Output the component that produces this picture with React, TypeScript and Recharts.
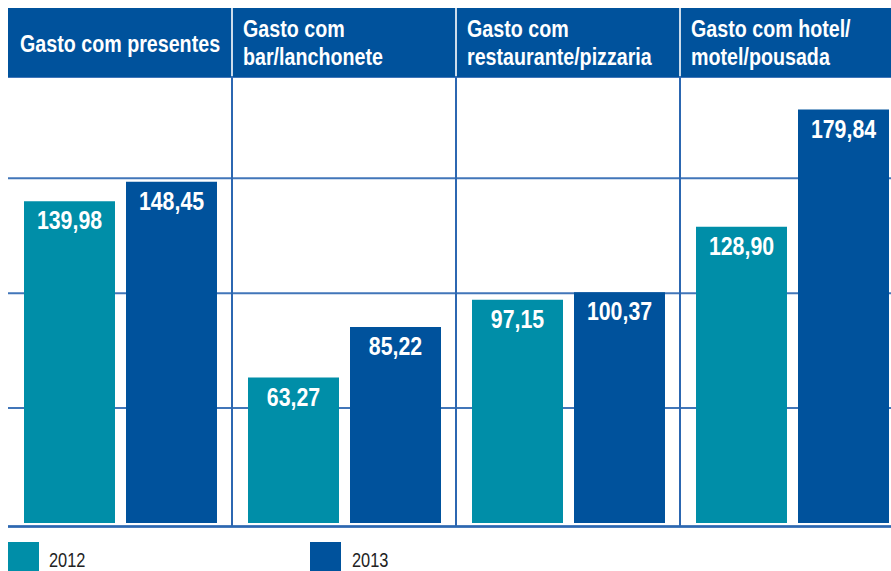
import React from 'react';
import { BarChart, Bar, XAxis, YAxis, CartesianGrid, ReferenceLine, LabelList } from 'recharts';

const categories = ['Gasto com presentes', 'Gasto com bar/lanchonete', 'Gasto com restaurante/pizzaria', 'Gasto com hotel/motel/pousada'];
const categoryLines = [
  ['Gasto com presentes'],
  ['Gasto com', 'bar/lanchonete'],
  ['Gasto com', 'restaurante/pizzaria'],
  ['Gasto com hotel/', 'motel/pousada'],
];
const values2012 = [139.98, 63.27, 97.15, 128.9];
const values2013 = [148.45, 85.22, 100.37, 179.84];
const seriesNames = ['2012', '2013'];
const gridTicks = [50, 100, 150];

const TEAL = '#008EA8';
const BLUE = '#00529C';
const LINE = '#2C67B1';
const FONT = '"Liberation Sans", Arial, sans-serif';
const NARROW = 0.82;

const data = categories.map((c, i) => ({ name: c, y2012: values2012[i], y2013: values2013[i] }));

const CHART_W = 904;
const CHART_H = 571;
const MARGIN = { top: 8, right: 0, bottom: 44.5, left: 8 };
const BAND = (CHART_W - MARGIN.left - MARGIN.right) / categories.length;
const HEADER_H = 69;

const fmt = (v: number) => v.toFixed(2).replace('.', ',');

const NarrowText = ({ x, y, children, size, anchor = 'start', weight = 'bold', fill = '#fff' }: any) => (
  <text
    transform={`translate(${x},${y}) scale(${NARROW},1)`}
    x={0}
    y={0}
    textAnchor={anchor}
    fill={fill}
    fontFamily={FONT}
    fontWeight={weight}
    fontSize={size}
  >
    {children}
  </text>
);

const HeaderTick = (props: any) => {
  const { x, index } = props;
  const left = x - BAND / 2;
  const lines = categoryLines[index] || [];
  const top = MARGIN.top;
  return (
    <g>
      <rect x={left + (index === 0 ? 0 : 0.8)} y={top} width={BAND - (index === 0 ? 0.8 : 1.6)} height={HEADER_H} fill={BLUE} />
      {lines.length === 1 ? (
        <NarrowText x={left + 12} y={top + 43.5} size={24}>{lines[0]}</NarrowText>
      ) : (
        lines.map((l: string, j: number) => (
          <NarrowText key={j} x={left + 11} y={top + 29 + j * 28} size={24}>{l}</NarrowText>
        ))
      )}
    </g>
  );
};

const ValueLabel = (props: any) => {
  const { x, y, width, value } = props;
  return (
    <NarrowText x={x + width / 2} y={y + 28} anchor="middle" size={26}>
      {fmt(value)}
    </NarrowText>
  );
};

const LegendBlock = () => (
  <svg width={891} height={40} style={{ position: 'absolute', left: 0, top: 542 }}>
    {seriesNames.map((s, i) => (
      <g key={s}>
        <rect x={8 + i * 302} y={0} width={31} height={31} fill={i === 0 ? TEAL : BLUE} />
        <NarrowText x={49 + i * 303} y={25} size={20} weight="normal" fill="#222">{s}</NarrowText>
      </g>
    ))}
  </svg>
);

export default function App() {
  return (
    <div style={{ position: 'fixed', left: 0, top: 0, width: 891, height: 571, overflow: 'hidden', background: '#fff' }}>
      <BarChart width={CHART_W} height={CHART_H} data={data} margin={MARGIN} barSize={91} barGap={11} barCategoryGap={0}>
        <CartesianGrid horizontal vertical={false} stroke={LINE} strokeWidth={2} strokeOpacity={0.9} />
        <XAxis xAxisId="cat" dataKey="name" orientation="top" height={HEADER_H} axisLine={false} tickLine={false} tick={<HeaderTick />} interval={0} />
        <YAxis hide domain={[-1.5, 194]} ticks={gridTicks} allowDataOverflow />
        {categories.slice(1).map((c) => (
          <ReferenceLine key={c} xAxisId="cat" x={c} position="start" stroke={LINE} strokeWidth={2} />
        ))}
        <ReferenceLine xAxisId="cat" y={-1.5} stroke={LINE} strokeWidth={2.5} />
        <Bar xAxisId="cat" dataKey="y2012" name={seriesNames[0]} fill={TEAL} isAnimationActive={false}>
          <LabelList dataKey="y2012" content={<ValueLabel />} />
        </Bar>
        <Bar xAxisId="cat" dataKey="y2013" name={seriesNames[1]} fill={BLUE} isAnimationActive={false}>
          <LabelList dataKey="y2013" content={<ValueLabel />} />
        </Bar>
      </BarChart>
      <LegendBlock />
    </div>
  );
}
